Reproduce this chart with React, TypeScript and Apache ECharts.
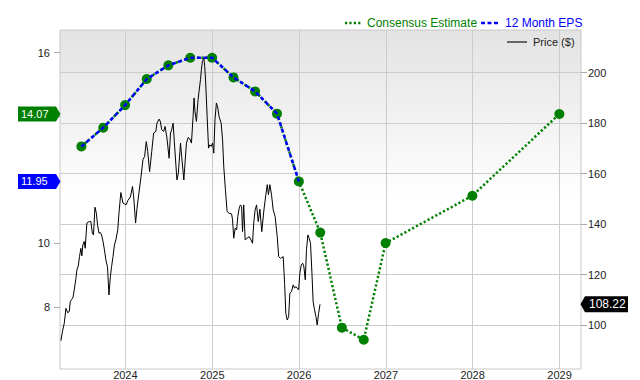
import { useEffect, useRef } from "react";
import * as echarts from "echarts";

const FONT = '"Liberation Sans", Arial, Helvetica, sans-serif';

// 12 Month EPS (actual, trailing)
const epsDates = ["2023-06-30", "2023-09-30", "2023-12-31", "2024-03-31", "2024-06-30", "2024-09-30", "2024-12-31", "2025-03-31", "2025-06-30", "2025-09-30", "2025-12-31"];
const epsValues = [13.05, 13.64, 14.35, 15.17, 15.6, 15.84, 15.84, 15.22, 14.78, 14.08, 11.95];

// Consensus estimate
const consensusDates = ["2023-06-30", "2023-09-30", "2023-12-31", "2024-03-31", "2024-06-30", "2024-09-30", "2024-12-31", "2025-03-31", "2025-06-30", "2025-09-30", "2025-12-31", "2026-03-31", "2026-06-30", "2026-09-30", "2026-12-31", "2027-12-31", "2028-12-31"];
const consensusValues = [13.05, 13.64, 14.35, 15.17, 15.6, 15.84, 15.84, 15.22, 14.78, 14.08, 11.95, 10.34, 7.35, 6.97, 10.01, 11.5, 14.07];

// Price ($)
const priceDates = [
  "2023-04-05", "2023-04-11", "2023-04-19", "2023-04-26", "2023-05-03", "2023-05-10", "2023-05-14", "2023-05-20", "2023-05-25", "2023-05-31",
  "2023-06-07", "2023-06-11", "2023-06-17", "2023-06-22", "2023-06-28", "2023-07-02", "2023-07-06", "2023-07-12", "2023-07-16", "2023-07-23",
  "2023-08-02", "2023-08-09", "2023-08-15", "2023-08-20", "2023-08-26", "2023-09-01", "2023-09-06", "2023-09-12", "2023-09-18", "2023-09-23",
  "2023-09-29", "2023-10-05", "2023-10-11", "2023-10-18", "2023-10-24", "2023-10-30", "2023-11-04", "2023-11-10", "2023-11-16", "2023-11-22",
  "2023-11-30", "2023-12-05", "2023-12-13", "2023-12-22", "2023-12-28", "2024-01-04", "2024-01-12", "2024-01-22", "2024-01-31", "2024-02-05",
  "2024-02-13", "2024-02-19", "2024-02-27", "2024-03-07", "2024-03-15", "2024-03-22", "2024-03-29", "2024-04-04", "2024-04-12", "2024-04-21",
  "2024-04-29", "2024-05-08", "2024-05-13", "2024-05-22", "2024-05-27", "2024-06-02", "2024-06-10", "2024-06-16", "2024-06-24", "2024-07-03",
  "2024-07-09", "2024-07-14", "2024-07-20", "2024-07-25", "2024-07-31", "2024-08-05", "2024-08-11", "2024-08-20", "2024-08-25", "2024-09-03",
  "2024-09-08", "2024-09-14", "2024-09-21", "2024-09-28", "2024-10-05", "2024-10-12", "2024-10-16", "2024-10-20", "2024-10-26", "2024-11-02",
  "2024-11-06", "2024-11-12", "2024-11-16", "2024-11-20", "2024-11-26", "2024-11-30", "2024-12-04", "2024-12-10", "2024-12-16", "2024-12-21",
  "2024-12-27", "2025-01-02", "2025-01-07", "2025-01-12", "2025-01-18", "2025-01-24", "2025-01-29", "2025-02-07", "2025-02-13", "2025-02-18",
  "2025-02-25", "2025-03-04", "2025-03-12", "2025-03-23", "2025-03-27", "2025-04-01", "2025-04-07", "2025-04-13", "2025-04-18", "2025-04-24",
  "2025-04-29", "2025-05-04", "2025-05-08", "2025-05-13", "2025-05-19", "2025-05-27", "2025-06-05", "2025-06-13", "2025-06-19", "2025-06-24",
  "2025-06-30", "2025-07-06", "2025-07-13", "2025-07-20", "2025-07-28", "2025-08-06", "2025-08-14", "2025-08-20", "2025-08-25", "2025-08-31",
  "2025-09-07", "2025-09-14", "2025-09-22", "2025-10-01", "2025-10-07", "2025-10-15", "2025-10-26", "2025-11-01", "2025-11-06", "2025-11-12",
  "2025-11-18", "2025-11-23", "2025-11-30", "2025-12-07", "2025-12-13", "2025-12-18", "2025-12-24", "2025-12-30", "2026-01-04", "2026-01-10",
  "2026-01-16", "2026-01-21", "2026-01-27", "2026-02-01", "2026-02-07", "2026-02-12", "2026-02-18", "2026-02-24", "2026-03-01", "2026-03-07",
  "2026-03-13", "2026-03-18", "2026-03-24", "2026-03-30",
];
const priceValues = [
  93.8, 97.3, 100.7, 106.6, 104.9, 105.3, 109.2, 110.2, 110.6, 113.9,
  118.5, 121.8, 123.4, 127.1, 130.4, 127.4, 131.7, 133.1, 130.4, 140.4,
  141.0, 141.0, 136.4, 135.7, 146.7, 144.3, 139.7, 136.4, 136.6, 135.7,
  133.1, 129.8, 125.8, 122.9, 111.9, 119.2, 123.1, 127.1, 131.7, 133.7,
  137.7, 144.3, 152.5, 148.3, 148.0, 147.6, 149.4, 150.7, 154.9, 150.8,
  140.4, 146.3, 152.3, 158.9, 165.5, 166.8, 172.7, 168.8, 160.8, 168.8,
  176.1, 176.7, 180.0, 181.6, 180.7, 177.4, 176.7, 178.7, 174.1, 166.1,
  176.1, 177.4, 180.0, 172.7, 164.2, 157.5, 160.2, 172.1, 166.8, 157.5,
  164.2, 172.1, 174.3, 173.8, 172.1, 182.7, 190.0, 184.6, 180.7, 189.3,
  192.6, 197.2, 201.2, 204.5, 205.8, 202.5, 195.9, 182.7, 170.1, 171.4,
  170.8, 172.1, 168.1, 181.3, 188.0, 186.0, 182.7, 180.0, 173.4, 162.8,
  153.6, 145.0, 144.3, 144.0, 141.7, 134.4, 138.4, 137.7, 143.0, 146.3,
  147.6, 147.0, 137.0, 147.6, 133.7, 134.4, 135.0, 133.7, 132.4, 140.4,
  145.6, 147.6, 141.0, 145.9, 137.0, 145.6, 151.6, 155.6, 151.6, 155.6,
  151.6, 145.6, 143.0, 135.0, 127.1, 126.4, 127.1, 116.5, 104.6, 102.0,
  103.3, 112.6, 113.2, 115.9, 114.6, 115.2, 114.6, 113.9, 120.5, 123.8,
  124.5, 123.1, 117.9, 129.8, 135.7, 134.4, 132.4, 120.5, 109.2, 106.0,
  103.3, 100.0, 104.6, 108.22,
];

// Axis ticks
const yearTicks = ["2024-01-01", "2025-01-01", "2026-01-01", "2027-01-01", "2028-01-01", "2029-01-01"];
const epsTicks = [8, 10, 12, 14, 16];
const epsTickLabels = [8, 10, 16];
const priceTicks = [100, 120, 140, 160, 180, 200];
const xRange = ["2023-04-01", "2029-04-01"];
const epsRange = [6.05, 16.712];
const priceRange = [82.56, 216.92];

function ts(s: string): number {
  const [y, m, d] = s.split("-").map(Number);
  return Date.UTC(y, m - 1, d);
}

export default function App() {
  const ref = useRef<HTMLDivElement>(null);

  useEffect(() => {
    const el = ref.current;
    if (!el) return;
    const chart = echarts.init(el, null, { renderer: "svg" });

    const pricePairs = priceDates.map((d, i) => [ts(d), priceValues[i]]);
    const epsPairs = epsDates.map((d, i) => [ts(d), epsValues[i]]);
    const consPairs = consensusDates.map((d, i) => [ts(d), consensusValues[i]]);
    const yearTs = yearTicks.map(ts);

    chart.setOption({
      animation: false,
      textStyle: { fontFamily: FONT },
      grid: {
        left: 60,
        right: 59,
        top: 30,
        bottom: 11,
        show: true,
        outerBoundsMode: "none",
        borderColor: "#c8c8c8",
        borderWidth: 1,
        backgroundColor: new echarts.graphic.LinearGradient(0, 0, 0, 1, [
          { offset: 0, color: "#e3e3e3" },
          { offset: 0.5, color: "#ffffff" },
          { offset: 1, color: "#ffffff" },
        ]),
      },
      xAxis: {
        type: "value",
        min: ts(xRange[0]),
        max: ts(xRange[1]),
        axisLine: { show: false },
        axisTick: { show: false, customValues: yearTs },
        axisLabel: {
          customValues: yearTs,
          formatter: (v: number) => String(new Date(v).getUTCFullYear()),
          color: "#222",
          fontSize: 11,
          lineHeight: 10,
          fontFamily: FONT,
          margin: 1,
        },
        splitLine: { show: true, lineStyle: { color: "#cccccc", width: 1 } },
      },
      yAxis: [
        {
          type: "value",
          position: "left",
          min: epsRange[0],
          max: epsRange[1],
          axisLine: { show: false },
          axisTick: { show: true, length: 6, lineStyle: { color: "#aaaaaa" }, customValues: epsTicks },
          axisLabel: { customValues: epsTickLabels, margin: 10, color: "#222", fontSize: 11, fontFamily: FONT },
          splitLine: { show: false },
        },
        {
          type: "value",
          position: "right",
          min: priceRange[0],
          max: priceRange[1],
          axisLine: { show: false },
          axisTick: { show: true, length: 6, lineStyle: { color: "#aaaaaa" }, customValues: priceTicks },
          axisLabel: { customValues: priceTicks, margin: 7, color: "#222", fontSize: 11, fontFamily: FONT },
          splitLine: { show: true, lineStyle: { color: "#cccccc", width: 1 } },
        },
      ],
      series: [
        {
          name: "Price ($)",
          type: "line",
          yAxisIndex: 1,
          data: pricePairs,
          symbol: "none",
          lineStyle: { color: "#000000", width: 1 },
          z: 1,
        },
        {
          name: "Consensus Estimate",
          type: "line",
          yAxisIndex: 0,
          data: consPairs,
          symbol: "circle",
          symbolSize: 10,
          itemStyle: { color: "#008000" },
          lineStyle: { color: "#008000", width: 2.5, type: [2.2, 2.2] },
          z: 3,
        },
        {
          name: "12 Month EPS",
          type: "line",
          yAxisIndex: 0,
          data: epsPairs,
          symbol: "none",
          lineStyle: { color: "#0000ff", width: 2.5, type: [4, 2.5] },
          z: 4,
        },
      ],
    });

    const lastCons = consensusValues[consensusValues.length - 1];
    const lastEps = epsValues[epsValues.length - 1];
    const lastPrice = priceValues[priceValues.length - 1];
    const yCons = chart.convertToPixel({ yAxisIndex: 0 }, lastCons) as number;
    const yEps = chart.convertToPixel({ yAxisIndex: 0 }, lastEps) as number;
    const yPrice = chart.convertToPixel({ yAxisIndex: 1 }, lastPrice) as number;

    const leftTag = (y: number, color: string, label: string) => [
      {
        type: "polygon",
        z: 100,
        shape: { points: [[18, y - 7.5], [56, y - 7.5], [60.5, y], [56, y + 7.5], [18, y + 7.5]] },
        style: { fill: color },
      },
      {
        type: "text",
        z: 101,
        x: 21,
        y: y,
        style: { text: label, fill: "#ffffff", font: `11px ${FONT}`, textAlign: "left", textVerticalAlign: "middle" },
      },
    ];

    chart.setOption({
      graphic: [
        ...leftTag(yCons, "#008000", lastCons.toFixed(2)),
        ...leftTag(yEps, "#0000ff", lastEps.toFixed(2)),
        {
          type: "polygon",
          z: 100,
          shape: { points: [[580.5, yPrice], [585, yPrice - 8], [628, yPrice - 8], [628, yPrice + 8], [585, yPrice + 8]] },
          style: { fill: "#000000" },
        },
        {
          type: "text",
          z: 101,
          x: 589,
          y: yPrice,
          style: { text: lastPrice.toFixed(2), fill: "#ffffff", font: `12px ${FONT}`, textAlign: "left", textVerticalAlign: "middle" },
        },
        // Legend
        {
          type: "line",
          z: 100,
          shape: { x1: 345, y1: 23, x2: 361, y2: 23 },
          style: { stroke: "#008000", lineWidth: 2.5, lineDash: [2.2, 2.2] },
        },
        {
          type: "text",
          z: 100,
          x: 367,
          y: 23,
          style: { text: "Consensus Estimate", fill: "#008000", font: `12px ${FONT}`, textAlign: "left", textVerticalAlign: "middle" },
        },
        {
          type: "line",
          z: 100,
          shape: { x1: 481, y1: 23, x2: 500, y2: 23 },
          style: { stroke: "#0000ff", lineWidth: 2.5, lineDash: [4, 2.5] },
        },
        {
          type: "text",
          z: 100,
          x: 505,
          y: 23,
          style: { text: "12 Month EPS", fill: "#0000ff", font: `12px ${FONT}`, textAlign: "left", textVerticalAlign: "middle" },
        },
        {
          type: "line",
          z: 100,
          shape: { x1: 507, y1: 42, x2: 527, y2: 42 },
          style: { stroke: "#666666", lineWidth: 2 },
        },
        {
          type: "text",
          z: 100,
          x: 533,
          y: 42,
          style: { text: "Price ($)", fill: "#222222", font: `11px ${FONT}`, textAlign: "left", textVerticalAlign: "middle" },
        },
      ],
    });

    return () => {
      chart.dispose();
    };
  }, []);

  return (
    <div
      ref={ref}
      style={{ position: "fixed", left: 0, top: 0, width: 640, height: 380, background: "#ffffff" }}
    />
  );
}
